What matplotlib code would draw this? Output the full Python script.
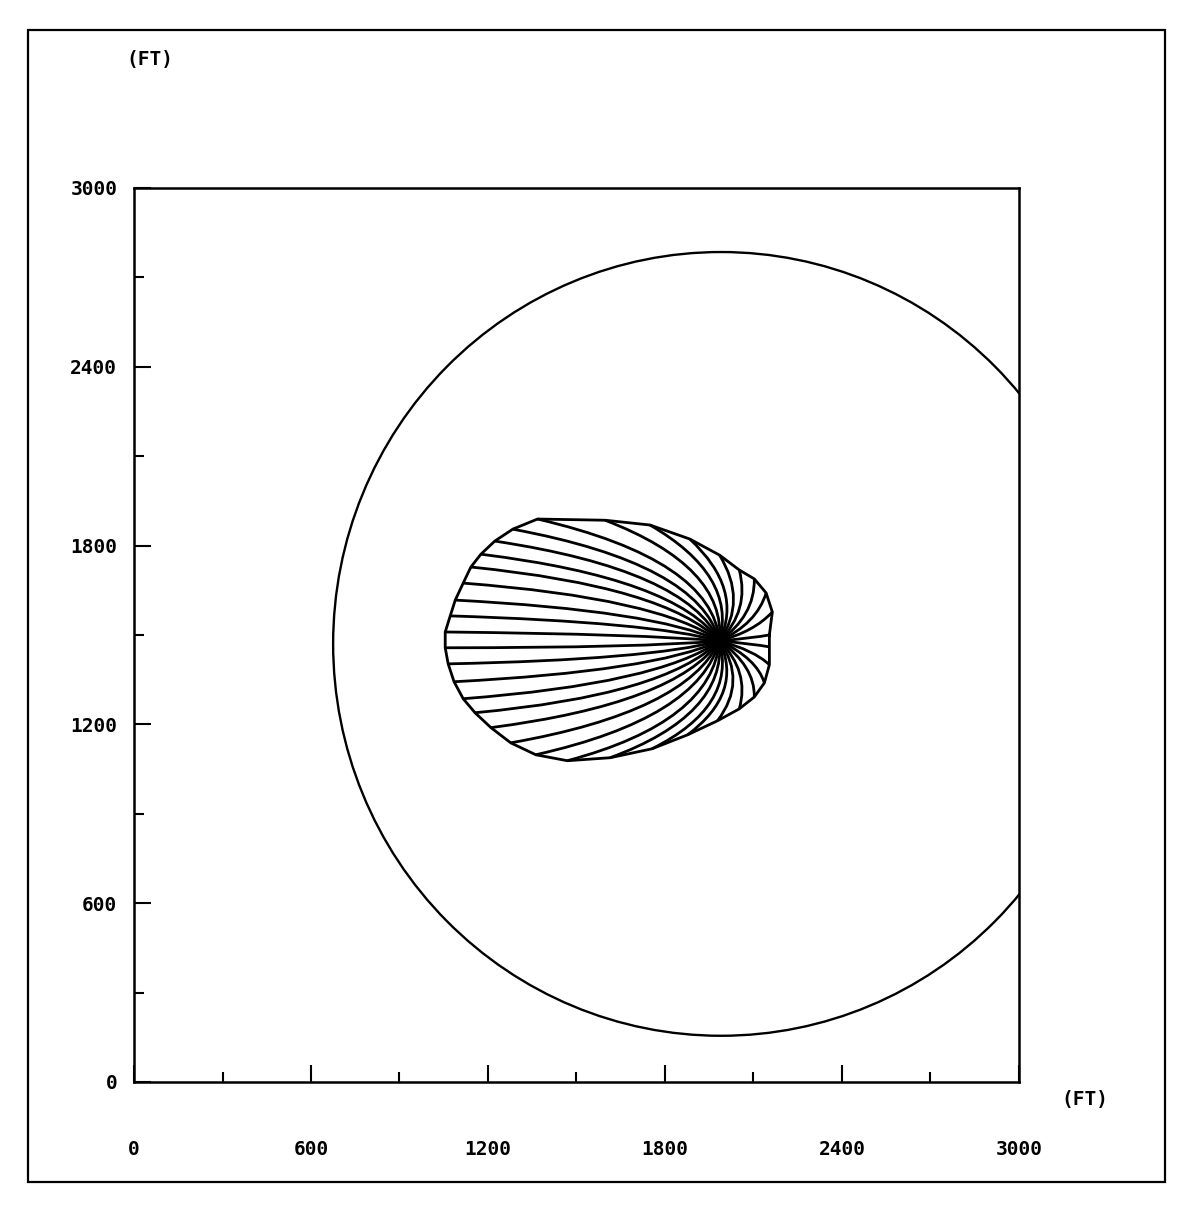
import matplotlib
matplotlib.use("Agg")
import matplotlib.pyplot as plt
from matplotlib.path import Path
from matplotlib.patches import PathPatch, Circle, Rectangle

# Pozo (pies)
pozo_x, pozo_y = 1985, 1480
# Circulo exterior
centro_x, centro_y, radio = 1990, 1470, 1315

# Extremos de las lineas de flujo (en orden angular, 5..355 grados)
fin_x = [2154, 2164, 2143, 2103, 2052, 1985, 1884, 1749, 1597,
         1368, 1284, 1223, 1176, 1142, 1116, 1089, 1072, 1055,
         1055, 1065, 1085, 1116, 1156, 1210, 1277, 1362, 1469,
         1614, 1756, 1877, 1978, 2052, 2103, 2137, 2154, 2154]
fin_y = [1500, 1577, 1641, 1688, 1718, 1768, 1822, 1869, 1885,
         1889, 1855, 1815, 1771, 1728, 1674, 1617, 1564, 1510,
         1457, 1403, 1343, 1286, 1239, 1189, 1138, 1098, 1078,
         1088, 1118, 1165, 1212, 1252, 1292, 1339, 1400, 1460]
# Puntos de control de cada curva
ctrl_x = [2099, 2102, 2112, 2105, 2088, 2080, 2067, 2044, 2007,
          1961, 1915, 1874, 1837, 1802, 1778, 1764, 1750, 1722,
          1722, 1750, 1764, 1778, 1802, 1837, 1874, 1915, 1961,
          2007, 2044, 2067, 2080, 2088, 2105, 2112, 2102, 2099]
ctrl_y = [1490, 1511, 1539, 1564, 1583, 1615, 1654, 1700, 1729,
          1752, 1739, 1718, 1690, 1662, 1624, 1582, 1543, 1503,
          1457, 1417, 1378, 1336, 1298, 1270, 1242, 1221, 1208,
          1231, 1260, 1306, 1345, 1377, 1396, 1421, 1449, 1470]

ticks = [0, 600, 1200, 1800, 2400, 3000]
ticks_menores = [300, 900, 1500, 2100, 2700]
etiquetas = ["0", "600", "1200", "1800", "2400", "3000"]

fuente = dict(family="DejaVu Sans Mono", weight="bold", size=14)

fig = plt.figure(figsize=(11.83, 12.15), dpi=100)
ax = fig.add_axes([0.1133, 0.1095, 0.748, 0.7358])

# marco de la hoja
fig.patches.append(Rectangle((28 / 1183, 1 - 1182 / 1215), 1137 / 1183, 1152 / 1215,
                             transform=fig.transFigure, fill=False, lw=1.6, color="black"))

ax.add_patch(Circle((centro_x, centro_y), radio, fill=False, lw=1.7, color="black"))

for i in range(len(fin_x)):
    p = Path([(pozo_x, pozo_y), (ctrl_x[i], ctrl_y[i]), (fin_x[i], fin_y[i])],
             [Path.MOVETO, Path.CURVE3, Path.CURVE3])
    ax.add_patch(PathPatch(p, fill=False, lw=2.0, color="black"))

ax.plot(fin_x + [fin_x[0]], fin_y + [fin_y[0]], color="black", lw=2.0)
ax.plot([pozo_x], [pozo_y], "o", color="black", ms=10)

ax.set_xlim(0, 3000)
ax.set_ylim(0, 3000)
ax.set_xticks(ticks)
ax.set_yticks(ticks)
ax.set_xticks(ticks_menores, minor=True)
ax.set_yticks(ticks_menores, minor=True)
ax.set_xticklabels(etiquetas, fontdict=fuente)
ax.set_yticklabels(etiquetas, fontdict=fuente)
ax.tick_params(which="major", direction="in", length=12, width=1.5, top=False, right=False)
ax.tick_params(which="minor", direction="in", length=7, width=1.5, top=False, right=False)
ax.tick_params(axis="x", which="major", pad=42)
ax.tick_params(axis="y", which="major", pad=12)
for s in ax.spines.values():
    s.set_linewidth(1.8)

fig.text(150 / 1183, 1 - 60 / 1215, "(FT)", ha="center", va="center", **fuente)
fig.text(1085 / 1183, 1 - 1100 / 1215, "(FT)", ha="center", va="center", **fuente)

fig.savefig("out.png", dpi=100)
